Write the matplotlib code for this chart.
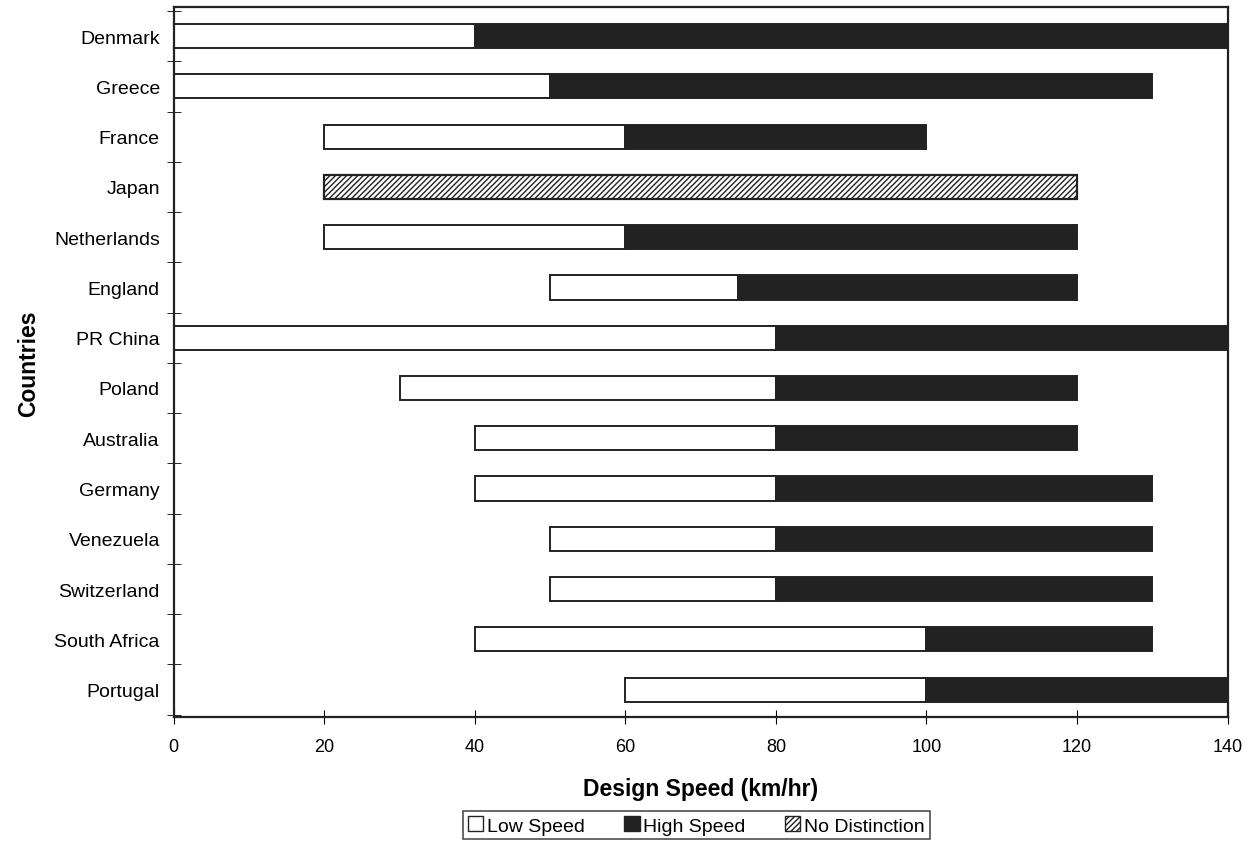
import numpy as np
import matplotlib.pyplot as plt
from matplotlib.patches import Patch

plt.rcParams['font.family'] = ['Liberation Sans', 'DejaVu Sans']

paises = ["Denmark", "Greece", "France", "Japan", "Netherlands", "England",
          "PR China", "Poland", "Australia", "Germany", "Venezuela",
          "Switzerland", "South Africa", "Portugal"]
# inicio da faixa de baixa velocidade, limite baixa/alta, fim da faixa de alta
inicio = [0, 0, 20, 20, 20, 50, 0, 30, 40, 40, 50, 50, 40, 60]
limite = [40, 50, 60, 120, 60, 75, 80, 80, 80, 80, 80, 80, 100, 100]
fim = [140, 130, 100, 120, 120, 120, 140, 120, 120, 130, 130, 130, 130, 140]
sem_distincao = ["Japan"]

fig = plt.figure(figsize=(12.5, 8.45), dpi=100)
ax = fig.add_axes([0.139, 0.150, 0.843, 0.840])

y = np.arange(len(paises))
altura = 0.48
for i, p in enumerate(paises):
    if p in sem_distincao:
        ax.barh(i, fim[i] - inicio[i], left=inicio[i], height=altura,
                color="white", edgecolor="#222222", hatch="//////", linewidth=1.6)
        continue
    ax.barh(i, limite[i] - inicio[i], left=inicio[i], height=altura,
            color="white", edgecolor="#222222", linewidth=1.4)
    ax.barh(i, fim[i] - limite[i], left=limite[i], height=altura,
            color="#222222", edgecolor="#222222", linewidth=1.4)

ax.set_xlim(0, 140)
ax.set_ylim(len(paises) - 0.45, -0.57)
ax.set_xticks(np.arange(0, 141, 20))
ax.set_yticks(y)
ax.set_yticklabels(paises, fontsize=14)
ax.tick_params(axis="y", length=0, pad=10)
ax.tick_params(axis="x", direction="inout", length=10, labelsize=13, pad=10)
# marcas entre as categorias no eixo y
ax.set_yticks(np.arange(-0.5, len(paises), 1), minor=True)
ax.tick_params(axis="y", which="minor", direction="inout", length=10)
for s in ax.spines.values():
    s.set_linewidth(1.6)
    s.set_color("#222222")

ax.set_xlabel("Design Speed (km/hr)", fontsize=16.5, fontweight="bold", labelpad=16)
ax.set_ylabel("Countries", fontsize=16.5, fontweight="bold", labelpad=10)

itens = [Patch(facecolor="white", edgecolor="#222222", label="Low Speed"),
         Patch(facecolor="#222222", edgecolor="#222222", label="High Speed"),
         Patch(facecolor="white", edgecolor="#222222", hatch="//////", label="No Distinction")]
leg = fig.legend(handles=itens, loc="center", bbox_to_anchor=(0.557, 0.022), ncol=3,
                 fontsize=14, handlelength=0.8, handleheight=0.8, handletextpad=0.2,
                 columnspacing=2.0, frameon=True, fancybox=False, borderpad=0.25)
leg.get_frame().set_edgecolor("#222222")
leg.get_frame().set_linewidth(1.2)

fig.savefig("out.png", dpi=100)
